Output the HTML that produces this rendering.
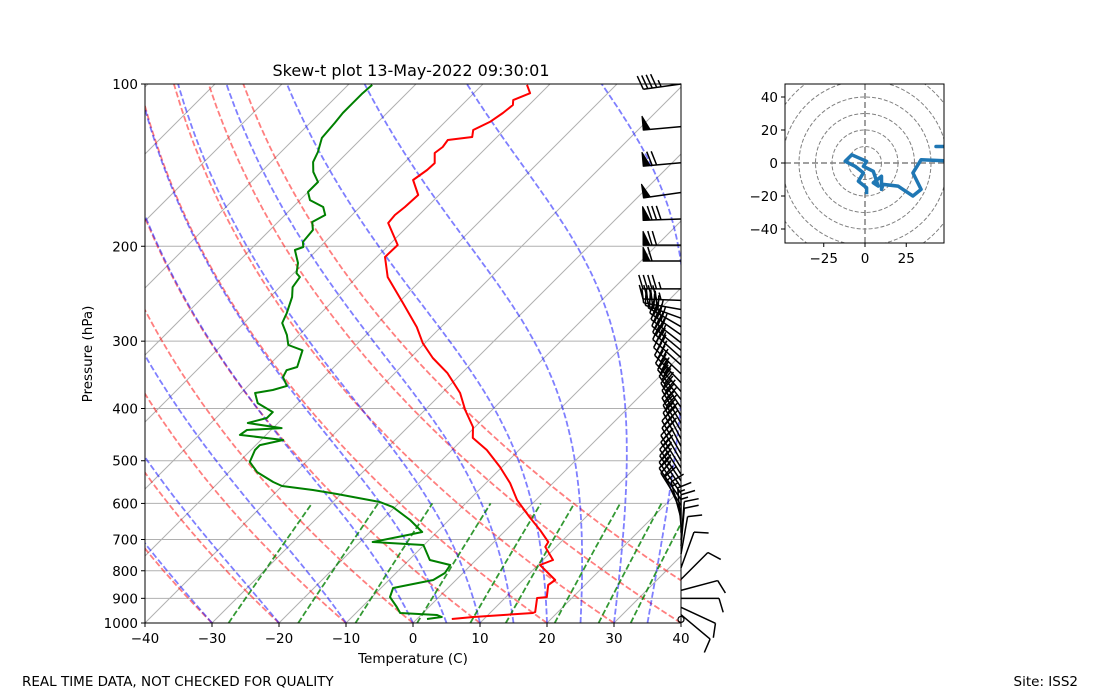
<!DOCTYPE html>
<html><head><meta charset="utf-8"><style>
html,body{margin:0;padding:0;background:#fff;}
svg{display:block;font-family:"DejaVu Sans","Liberation Sans",sans-serif;}
</style></head><body>
<svg id="chart" width="1100" height="700" viewBox="0 0 1100 700" xmlns="http://www.w3.org/2000/svg">
<defs>
<clipPath id="plotclip"><rect x="145" y="84" width="536" height="539"/></clipPath>
<clipPath id="hodoclip"><rect x="785" y="84" width="159" height="159"/></clipPath>
</defs>
<rect width="1100" height="700" fill="#fff"/>
<g id="bg" clip-path="url(#plotclip)"></g>
<g id="profiles" clip-path="url(#plotclip)"></g>
<rect x="145" y="84" width="536" height="539" fill="none" stroke="#000" stroke-width="1"/>
<g id="axes"></g>
<g id="barbs"></g>
<text x="411" y="76" text-anchor="middle" font-size="16">Skew-t plot 13-May-2022 09:30:01</text>
<text x="413" y="663" text-anchor="middle" font-size="13.5">Temperature (C)</text>
<text x="0" y="0" transform="translate(92,354) rotate(-90)" text-anchor="middle" font-size="13.5">Pressure (hPa)</text>
<text x="22" y="686" font-size="13.5">REAL TIME DATA, NOT CHECKED FOR QUALITY</text>
<text x="1078" y="686" text-anchor="end" font-size="13.5">Site: ISS2</text>
<g id="hodo"></g>
</svg>
<script>
const tempP = [100.4,104.0,107.1,109.4,113.2,117.6,121.7,125.4,127.0,130.9,134.3,140.2,144.4,150.7,160.7,169.1,175.0,181.1,198.9,209.4,228.2,254.7,282.5,302.6,322.4,343.6,374.3,402.6,432.8,453.6,477.6,513.6,550.0,591.6,636.2,672.3,707.5,722.6,764.1,780.5,832.1,850.1,895.1,898.8,954.1,958.1,974.7,983.1];
const tempT = [-63.3,-61.6,-63.1,-62.4,-62.7,-63.3,-64.6,-63.7,-66.9,-66.6,-66.9,-65.4,-65.5,-66.1,-63.1,-63.3,-63.6,-63.4,-58.7,-58.8,-55.4,-49.3,-43.6,-40.3,-36.6,-32.2,-27.3,-24.0,-20.3,-18.7,-14.8,-10.3,-6.4,-2.8,1.6,5.1,8.1,8.4,11.5,10.3,14.8,14.5,16.1,14.8,16.6,16.4,8.1,5.2];
const dewP = [100.4,104.0,108.5,113.2,118.1,125.9,133.7,139.6,145.6,152.0,158.6,164.2,169.1,175.0,180.3,186.6,196.4,200.6,203.2,214.8,224.4,228.2,238.2,248.4,266.0,277.6,292.2,305.0,311.9,335.0,339.6,349.8,363.2,369.6,374.3,390.9,406.2,416.6,425.6,434.9,438.5,447.8,457.5,467.7,477.6,502.5,524.8,547.6,557.0,566.5,576.3,596.3,609.4,644.1,678.0,686.9,707.5,716.5,764.1,780.5,807.6,832.1,861.0,895.1,933.9,958.1,966.4,974.7,983.1];
const dewT = [-86.4,-86.6,-86.6,-86.6,-86.3,-86.0,-84.5,-83.7,-82.2,-80.0,-80.0,-78.5,-75.5,-74.0,-74.9,-73.6,-73.3,-72.5,-73.3,-70.9,-69.6,-68.5,-68.1,-66.7,-65.1,-64.3,-61.8,-60.1,-57.2,-55.5,-56.6,-56.1,-54.2,-55.7,-57.9,-56.0,-52.4,-52.4,-54.5,-48.7,-53.6,-53.9,-46.7,-49.4,-49.4,-48.4,-45.8,-41.9,-40.0,-34.8,-30.6,-23.0,-20.3,-15.8,-12.2,-14.0,-18.1,-10.1,-6.9,-3.1,-2.7,-3.4,-8.2,-7.3,-4.8,-3.4,2.4,3.4,1.5];
const windP = [100,120,140,159,178,199,213,240,252,262,272,282,292,302,312,322,332,345,358,372,385,398,412,426,440,455,470,485,500,515,530,545,560,575,590,605,620,640,660,680,700,720,745,790,830,870,900,935,965,985];
const windSpd = [45,50,70,50,80,70,60,45,45,40,40,40,40,40,35,35,35,35,35,35,30,30,30,30,30,30,30,30,25,25,25,25,25,20,20,20,15,15,15,15,10,10,10,10,10,10,10,10,10,0];
const windDir = [262,265,265,262,268,270,270,270,272,280,290,300,305,308,310,312,312,314,316,318,322,325,328,330,330,332,332,330,330,328,328,326,326,325,325,328,335,345,355,0,5,5,10,20,45,75,90,115,130,0];
const hodoU = [1,1,-4,-1,-6,-12,-8,1,-1,5,8,5,10,10,11,20,23,29,34,29,34,55,55,43,60];
const hodoV = [-19,-15,-11,-6,-2,1,5,1,-2,-5,-14,-12,-8,-16,-13,-14,-16,-20,-16,-6,2,1,10,10,10];
const xTicks = [-40,-30,-20,-10,0,10,20,30,40];
const pTicks = [100,200,300,400,500,600,700,800,900,1000];
const dryT0 = [-40,-30,-20,-10,0,10,20,30,40,50];
const moistT0 = [-40,-30,-20,-10,0,5,10,15,20,25,30,35,40];
const mixW = [0.0004,0.001,0.002,0.004,0.007,0.01,0.016,0.024,0.032];
const hodoTicksX = [-25,0,25];
const hodoTicksY = [-40,-20,0,20,40];

const NS='http://www.w3.org/2000/svg';
const X0=145,X1=681,YB=623,YT=84;
function yP(p){return YB-(YB-YT)*Math.log10(1000/p);}
function xT(t,p){return X0+(t+40)*(X1-X0)/80+(YB-yP(p));}
function mk(tag,attrs,parent){const e=document.createElementNS(NS,tag);for(const k in attrs)e.setAttribute(k,attrs[k]);parent.appendChild(e);return e;}
function path(pts){return pts.map((q,i)=>(i?'L':'M')+q[0].toFixed(1)+' '+q[1].toFixed(1)).join('');}
const bg=document.getElementById('bg'),prof=document.getElementById('profiles'),ax=document.getElementById('axes'),bb=document.getElementById('barbs'),hg=document.getElementById('hodo');

for(let t=-160;t<=40;t+=10){
  const l=mk('line',{x1:xT(t,1000),y1:YB,x2:xT(t,1000)+600,y2:YB-600,stroke:'#b0b0b0','stroke-width':1},bg);
  
  
}
pTicks.forEach(p=>{
  const l=mk('line',{x1:X0,y1:yP(p),x2:X1,y2:yP(p),stroke:'#b0b0b0','stroke-width':1},bg);
  
  
});
const plevs=[];for(let p=1000;p>=99;p-=10)plevs.push(p);
dryT0.forEach(t0=>{
  const th=t0+273.15;
  const pts=plevs.map(p=>[xT(th*Math.pow(p/1000,0.2857)-273.15,p),yP(p)]);
  const e=mk('path',{d:path(pts),fill:'none',stroke:'red','stroke-opacity':0.5,'stroke-width':1.8,'stroke-dasharray':'6,2.6'},bg);
  
  
});
function es(tc){return 6.112*Math.exp(17.67*tc/(tc+243.5));}
moistT0.forEach(t0=>{
  let T=t0+273.15,p=1000;const pts=[[xT(t0,p),yP(p)]];
  const Rd=287.04,cp=1005.7,Lv=2.501e6,eps=0.622;
  while(p>100){
    const dp=-2;
    const f=(T,p)=>{const e=es(T-273.15);const rs=eps*e/(p-e);return (Rd*T+Lv*rs)/(cp+Lv*Lv*rs*eps/(Rd*T*T))/p;};
    const k1=f(T,p),k2=f(T+k1*dp/2,p+dp/2),k3=f(T+k2*dp/2,p+dp/2),k4=f(T+k3*dp,p+dp);
    T+=dp*(k1+2*k2+2*k3+k4)/6;p+=dp;
    pts.push([xT(T-273.15,p),yP(p)]);
  }
  const e=mk('path',{d:path(pts),fill:'none',stroke:'blue','stroke-opacity':0.5,'stroke-width':1.8,'stroke-dasharray':'6,2.6'},bg);
  
  
});
mixW.forEach(w=>{
  const pts=[];
  for(let p=1000;p>=600;p-=20){const e=p*w/(0.622+w);const L=Math.log(e/6.112);const td=243.5*L/(17.67-L);pts.push([xT(td,p),yP(p)]);}
  const e=mk('path',{d:path(pts),fill:'none',stroke:'green','stroke-opacity':0.8,'stroke-width':1.8,'stroke-dasharray':'6,2.6'},bg);
  
  
});
const tl=mk('path',{d:path(tempP.map((p,i)=>[xT(tempT[i],p),yP(p)])),fill:'none',stroke:'red','stroke-width':2,'stroke-linejoin':'round'},prof);


const dl=mk('path',{d:path(dewP.map((p,i)=>[xT(dewT[i],p),yP(p)])),fill:'none',stroke:'green','stroke-width':2,'stroke-linejoin':'round'},prof);


xTicks.forEach(t=>{
  const x=X0+(t+40)*(X1-X0)/80;
  mk('line',{x1:x,y1:YB,x2:x,y2:YB+4,stroke:'#000'},ax);
  const tx=mk('text',{x:x,y:YB+20,'text-anchor':'middle','font-size':13.5},ax);
  tx.textContent=(t<0?'\u2212'+(-t):t);
  
  
});
pTicks.forEach(p=>{
  const y=yP(p);
  mk('line',{x1:X0-4,y1:y,x2:X0,y2:y,stroke:'#000'},ax);
  const tx=mk('text',{x:X0-7,y:y+5,'text-anchor':'end','font-size':13.5},ax);
  tx.textContent=p;
  
  
});
windP.forEach((p,i)=>{
  const bx=X1,by=yP(p),spd=windSpd[i];
  const g=mk('g',{},bb);
  
  
  if(spd<2.5){mk('circle',{cx:bx,cy:by,r:3,fill:'none',stroke:'#000','stroke-width':1.2},g);return;}
  const a=windDir[i]*Math.PI/180,ux=Math.sin(a),uy=-Math.cos(a),px=-uy,py=ux;
  const L=38,h=14,fw=7,sp=4.5;
  const tx=bx+ux*L,ty=by+uy*L;
  mk('line',{x1:bx,y1:by,x2:tx,y2:ty,stroke:'#000','stroke-width':1.5},g);
  let s=Math.round(spd/5)*5,off=0;
  while(s>=50){const x0=tx-ux*off,y0=ty-uy*off;
    mk('polygon',{points:`${x0},${y0} ${x0+px*h},${y0+py*h} ${x0-ux*fw},${y0-uy*fw}`,fill:'#000',stroke:'#000'},g);s-=50;off+=fw+2;}
  while(s>=10){const x0=tx-ux*off,y0=ty-uy*off;
    mk('line',{x1:x0,y1:y0,x2:x0+px*h+ux*h*0.3,y2:y0+py*h+uy*h*0.3,stroke:'#000','stroke-width':1.5},g);s-=10;off+=sp;}
  if(s>=5){if(off===0)off=sp;const x0=tx-ux*off,y0=ty-uy*off;
    mk('line',{x1:x0,y1:y0,x2:x0+px*h*0.5+ux*h*0.15,y2:y0+py*h*0.5+uy*h*0.15,stroke:'#000','stroke-width':1.5},g);}
});
const HX=865,HY=163,HS=1.65;
const hc=mk('g',{'clip-path':'url(#hodoclip)'},hg);
for(let r=10;r<=60;r+=10){const c=mk('circle',{cx:HX,cy:HY,r:r*HS,fill:'none',stroke:'#808080','stroke-width':1,'stroke-dasharray':'4,2'},hc);
  
  }
mk('line',{x1:785,y1:HY,x2:944,y2:HY,stroke:'#808080','stroke-width':1.5,'stroke-dasharray':'6,3'},hc);
mk('line',{x1:HX,y1:84,x2:HX,y2:243,stroke:'#808080','stroke-width':1.5,'stroke-dasharray':'6,3'},hc);
const hp=mk('path',{d:path(hodoU.map((u,i)=>[HX+u*HS,HY-hodoV[i]*HS])),fill:'none',stroke:'#1f77b4','stroke-width':3.5,'stroke-linejoin':'round'},hc);


const hf=mk('rect',{x:785,y:84,width:159,height:159,fill:'none',stroke:'#000'},hg);


hodoTicksX.forEach(v=>{const x=HX+v*HS;mk('line',{x1:x,y1:243,x2:x,y2:247,stroke:'#000'},hg);
  const t=mk('text',{x:x,y:263,'text-anchor':'middle','font-size':13.5},hg);t.textContent=v<0?'\u2212'+(-v):v;
  
  });
hodoTicksY.forEach(v=>{const y=HY-v*HS;mk('line',{x1:781,y1:y,x2:785,y2:y,stroke:'#000'},hg);
  const t=mk('text',{x:778,y:y+5,'text-anchor':'end','font-size':13.5},hg);t.textContent=v<0?'\u2212'+(-v):v;
  
  });
</script>
</body></html>
